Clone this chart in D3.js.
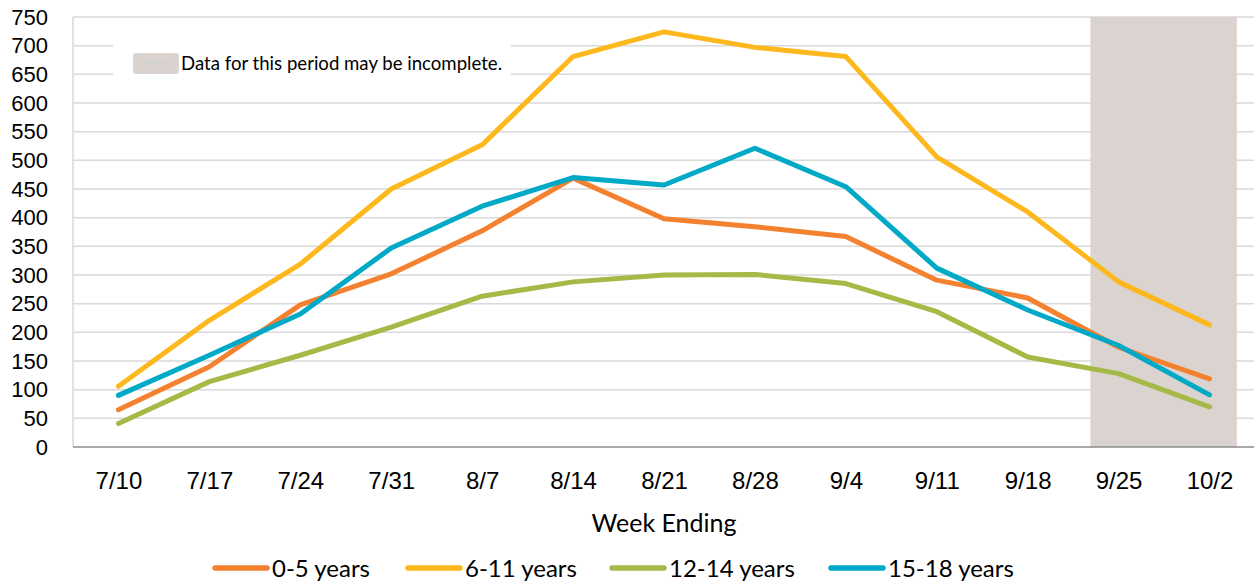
<!DOCTYPE html>
<html>
<head>
<meta charset="utf-8">
<script src="https://cdn.jsdelivr.net/npm/d3@7"></script>
<style>
  html, body { margin: 0; padding: 0; background: #fff; }
  svg { display: block; font-family: Lato, "Open Sans", sans-serif; }
  .grid line { stroke: #d9d9d9; stroke-width: 1.5; }
  .axis text { fill: #000; }
  .series { fill: none; stroke-width: 5; stroke-linejoin: round; stroke-linecap: round; }
</style>
</head>
<body>
<svg id="chart" width="1254" height="581"></svg>
<script>
// week ending dates
const weeks = ['7/10', '7/17', '7/24', '7/31', '8/7', '8/14', '8/21', '8/28', '9/4', '9/11', '9/18', '9/25', '10/2'];
const yTicks = [0, 50, 100, 150, 200, 250, 300, 350, 400, 450, 500, 550, 600, 650, 700, 750];

const ages0to5   = [65, 140, 248, 302, 377, 469, 398, 384, 367, 291, 260, 174, 119];
const ages6to11  = [106, 221, 319, 450, 527, 681, 724, 697, 681, 506, 410, 288, 213];
const ages12to14 = [41, 114, 160, 209, 263, 288, 300, 301, 285, 236, 157, 128, 70];
const ages15to18 = [90, 160, 232, 347, 420, 470, 457, 521, 454, 312, 239, 177, 91];

const seriesNames = ['0-5 years', '6-11 years', '12-14 years', '15-18 years'];
const seriesColors = ['#f4812f', '#fdb81e', '#a5b946', '#00a9c6'];
const seriesValues = [ages0to5, ages6to11, ages12to14, ages15to18];

// weeks that may be incomplete
const incompleteWeeks = ['9/25', '10/2'];

function drawChart() {
    const svg = d3.select('#chart');
    const left = 73, right = 1255, top = 17, bottom = 447;

    const x = d3.scalePoint()
        .domain(weeks)
        .range([left, right])
        .padding(0.5);

    const y = d3.scaleLinear()
        .domain([0, 750])
        .range([bottom, top]);

    // horizontal grid
    svg.append('g')
        .attr('class', 'grid')
        .selectAll('line')
        .data(yTicks.filter(d => d > 0))
        .enter().append('line')
        .attr('x1', left)
        .attr('x2', right)
        .attr('y1', d => y(d))
        .attr('y2', d => y(d));

    // shaded "incomplete" period
    const step = x.step();
    const x0 = x(incompleteWeeks[0]) - step * 0.31;
    const x1 = x(incompleteWeeks[incompleteWeeks.length - 1]) + step * 0.3;
    svg.append('rect')
        .attr('x', x0)
        .attr('y', y(750))
        .attr('width', x1 - x0)
        .attr('height', y(0) - y(750))
        .attr('fill', '#dbd3cf');

    // vertical axis line
    svg.append('line')
        .attr('x1', left).attr('x2', left)
        .attr('y1', y(750)).attr('y2', y(0))
        .attr('stroke', '#d9d9d9')
        .attr('stroke-width', 1.5);

    // y axis labels
    const yAxis = svg.append('g')
        .attr('class', 'axis')
        .attr('font-size', 22)
        .attr('transform', `translate(${left},0)`)
        .call(d3.axisLeft(y).tickValues(yTicks).tickSize(0).tickPadding(25));
    yAxis.select('.domain').remove();
    yAxis.selectAll('text').attr('font-size', 22);

    // x axis
    const xAxis = svg.append('g')
        .attr('class', 'axis')
        .attr('transform', `translate(0,${bottom})`)
        .call(d3.axisBottom(x).tickSize(0).tickPadding(25));
    xAxis.select('.domain').remove();
    xAxis.selectAll('text').attr('font-size', 24);
    svg.append('line')
        .attr('x1', left).attr('x2', right)
        .attr('y1', bottom).attr('y2', bottom)
        .attr('stroke', '#8c8c8c')
        .attr('stroke-width', 1.5);

    svg.append('text')
        .attr('x', 664)
        .attr('y', 532)
        .attr('text-anchor', 'middle')
        .attr('font-size', 25)
        .text('Week Ending');

    // lines
    const line = d3.line()
        .x((d, i) => x(weeks[i]))
        .y(d => y(d));

    seriesValues.forEach((vals, i) => {
        svg.append('path')
            .attr('class', 'series')
            .attr('stroke', seriesColors[i])
            .attr('d', line(vals));
    });

    // note legend in the top-left
    const note = svg.append('g');
    note.append('rect')
        .attr('x', 113).attr('y', 34)
        .attr('width', 398).attr('height', 54)
        .attr('fill', '#fff');
    note.append('rect')
        .attr('x', 133).attr('y', 53)
        .attr('width', 46).attr('height', 21)
        .attr('rx', 3)
        .attr('fill', '#dbd3cf');
    note.append('line')
        .attr('x1', 141).attr('x2', 171)
        .attr('y1', 63.5).attr('y2', 63.5)
        .attr('stroke', '#d2d2d2')
        .attr('stroke-width', 3);
    note.append('text')
        .attr('x', 181)
        .attr('y', 70)
        .attr('font-size', 18.6)
        .text('Data for this period may be incomplete.');

    // bottom legend
    const legendX = [213, 406, 610, 829];
    const legend = svg.append('g')
        .selectAll('g')
        .data(seriesNames)
        .enter().append('g')
        .attr('transform', (d, i) => `translate(${legendX[i]},568)`);
    legend.append('line')
        .attr('x1', 2).attr('x2', 54)
        .attr('stroke', (d, i) => seriesColors[i])
        .attr('stroke-width', 5.5)
        .attr('stroke-linecap', 'round');
    legend.append('text')
        .attr('x', 59)
        .attr('y', 8.5)
        .attr('font-size', 24)
        .text(d => d);
}

drawChart();
</script>
</body>
</html>
